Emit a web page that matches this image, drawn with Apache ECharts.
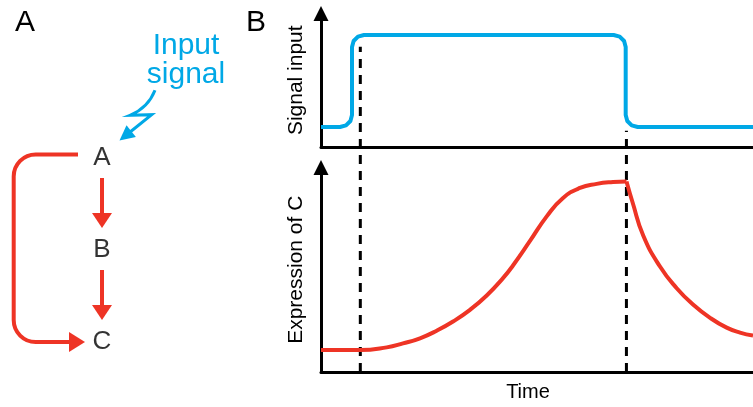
<!DOCTYPE html>
<html>
<head>
<meta charset="utf-8">
<script src="https://cdn.jsdelivr.net/npm/echarts@6/dist/echarts.min.js"></script>
<style>html,body{margin:0;padding:0;background:#fff}#c{width:753px;height:407px}</style>
</head>
<body>
<div id="c"></div>
<script>
// ---------------- data ----------------
const nodes = ['A', 'B', 'C'];
const links = [['A', 'B'], ['B', 'C'], ['A', 'C']];
const inputTarget = 'A';
const inputLabel = ['Input', 'signal'];
const panelLabels = ['A', 'B'];
const axisNames = ['Signal input', 'Expression of C', 'Time'];

const signalTime  = [0, 4.40, 5.79, 6.81, 7.18, 7.18, 7.55, 8.56, 9.95, 67.75, 69.14, 70.16, 70.53, 70.53, 70.90, 71.92, 73.31, 100];
const signalLevel = [15.0, 15.0, 16.2, 19.5, 24.0, 74.9, 79.4, 82.7, 83.9, 83.9, 82.7, 79.4, 74.9, 24.0, 19.5, 16.2, 15.0, 15.0];

const exprRiseTime  = [0, 9.03, 15.21, 18.98, 22.92, 26.78, 30.56, 34.49, 38.36, 42.13, 44.44, 48.38, 52.25, 55.97, 59.95, 63.82, 67.59, 70.72];
const exprRiseLevel = [10.75, 10.75, 12.05, 13.98, 16.5, 20.2, 24.7, 30.4, 37.4, 45.9, 52.1, 64.1, 76.1, 85.0, 90.0, 92.0, 92.9, 93.16];
const exprFallTime  = [70.72, 72.15, 74.61, 78.47, 82.34, 86.11, 90.05, 93.91, 96.99, 100];
const exprFallLevel = [93.16, 82.75, 66.65, 51.57, 40.96, 33.01, 26.51, 21.69, 19.28, 17.83];

const switchTimes = [9.1, 70.7];
const guideReach  = [159, 118];   // upper end of each guide, on the expression scale

// ---------------- style / layout ----------------
const FONT = '"Liberation Sans", Arial, Helvetica, sans-serif';
const BLUE = '#00A8E6', RED = '#EE3425', BLACK = '#000000';
const DIAG = { x: 102, y0: 158, dy: 92 };

const zip = (a, b) => a.map((v, i) => [v, b[i]]);

function plainAxis(extra) {
  return Object.assign({
    type: 'value', min: 0, max: 100,
    axisLine: { show: true, onZero: false, lineStyle: { color: BLACK, width: 3 } },
    axisTick: { show: false }, axisLabel: { show: false }, splitLine: { show: false }
  }, extra);
}
function arrowAxis(extra) {
  const a = plainAxis(extra);
  a.axisLine = { show: true, onZero: false, symbol: ['none', 'triangle'], symbolSize: [15, 15],
                 lineStyle: { color: BLACK, width: 3 } };
  return a;
}

function renderLink(params, api) {
  const from = api.value(0), to = api.value(1);
  const X = DIAG.x, yF = DIAG.y0 + from * DIAG.dy, yT = DIAG.y0 + to * DIAG.dy;
  const c = (x, y) => api.coord([x, y]);
  const st = { stroke: RED, lineWidth: 4, fill: null, lineJoin: 'round' };
  if (to - from === 1) {
    const s = c(X, yF + 20), b = c(X, yT - 37), t = c(X, yT - 22);
    return { type: 'group', children: [
      { type: 'line', shape: { x1: s[0], y1: s[1], x2: b[0], y2: b[1] + 1 }, style: st },
      { type: 'polygon', shape: { points: [t, [b[0] - 10, b[1]], [b[0] + 10, b[1]]] }, style: { fill: RED } }
    ] };
  }
  const r = 22, k = 0.5523;
  const s = c(X - 24, yF - 3.5), L = c(X - 88.3, yF - 3.5), e = c(X - 33, yT), tip = c(X - 17, yT);
  const lx = L[0], ty = s[1], by = e[1];
  const d = 'M' + s[0] + ' ' + ty + ' L' + (lx + r) + ' ' + ty +
    ' C' + (lx + r - r * k) + ' ' + ty + ' ' + lx + ' ' + (ty + r - r * k) + ' ' + lx + ' ' + (ty + r) +
    ' L' + lx + ' ' + (by - r) +
    ' C' + lx + ' ' + (by - r + r * k) + ' ' + (lx + r - r * k) + ' ' + by + ' ' + (lx + r) + ' ' + by +
    ' L' + (e[0] + 1) + ' ' + by;
  return { type: 'group', children: [
    { type: 'path', shape: { pathData: d }, style: st },
    { type: 'polygon', shape: { points: [tip, [e[0], by - 10], [e[0], by + 10]] }, style: { fill: RED } }
  ] };
}

function renderInput(params, api) {
  const idx = api.value(0);
  const X = DIAG.x, Y = DIAG.y0 + idx * DIAG.dy;
  const p = (dx, dy) => api.coord([X + dx, Y + dy]);
  const a = p(53, -67.7), q = p(46, -50), z1 = p(28, -42.7), z2 = p(49.7, -43.3), tip = p(17.5, -17.5);
  const ux = tip[0] - z2[0], uy = tip[1] - z2[1], len = Math.hypot(ux, uy);
  const u = [ux / len, uy / len], n = [-u[1], u[0]];
  const HL = 15, HW = 7.5;
  const bc = [tip[0] - HL * u[0], tip[1] - HL * u[1]];
  const d = 'M' + a[0] + ' ' + a[1] + ' Q' + q[0] + ' ' + q[1] + ' ' + z1[0] + ' ' + z1[1] +
            ' L' + z2[0] + ' ' + z2[1] + ' L' + (bc[0] + u[0]) + ' ' + (bc[1] + u[1]);
  return { type: 'group', children: [
    { type: 'path', shape: { pathData: d }, style: { stroke: BLUE, lineWidth: 3, fill: null, lineJoin: 'miter' } },
    { type: 'polygon', shape: { points: [tip, [bc[0] + HW * n[0], bc[1] + HW * n[1]], [bc[0] - HW * n[0], bc[1] - HW * n[1]]] },
      style: { fill: BLUE } }
  ] };
}

const idx = (n) => nodes.indexOf(n);

const option = {
  animation: false,
  backgroundColor: '#ffffff',
  textStyle: { fontFamily: FONT },
  grid: [
    { left: 321, right: 0, top: 13.5, height: 133.5 },
    { left: 321, right: 0, top: 167.5, height: 207.5 },
    { left: 0, top: 0, width: 260, height: 407 }
  ],
  xAxis: [
    plainAxis({ gridIndex: 0 }),
    plainAxis({ gridIndex: 1, name: axisNames[2], nameLocation: 'middle', nameGap: 10,
                nameTextStyle: { fontSize: 20, color: BLACK, fontFamily: FONT, padding: [0, 18, 0, 0] } }),
    { gridIndex: 2, type: 'value', min: 0, max: 260, show: false }
  ],
  yAxis: [
    arrowAxis({ gridIndex: 0, name: axisNames[0], nameLocation: 'middle', nameGap: 14,
                nameTextStyle: { fontSize: 21, color: BLACK, fontFamily: FONT } }),
    arrowAxis({ gridIndex: 1, name: axisNames[1], nameLocation: 'middle', nameGap: 14,
                nameTextStyle: { fontSize: 21, color: BLACK, fontFamily: FONT } }),
    { gridIndex: 2, type: 'value', min: 0, max: 407, inverse: true, show: false }
  ],
  graphic: [
    { type: 'text', x: 15, y: 8, style: { text: panelLabels[0], fontSize: 30, fontFamily: FONT, fill: BLACK, verticalAlign: 'top' } },
    { type: 'text', x: 246, y: 8, style: { text: panelLabels[1], fontSize: 30, fontFamily: FONT, fill: BLACK, verticalAlign: 'top' } },
    { type: 'text', x: 186, y: 31, style: { text: inputLabel.join('\n'), fontSize: 30, lineHeight: 29, fontFamily: FONT,
      fill: BLUE, align: 'center', verticalAlign: 'top' } }
  ],
  series: [
    ...switchTimes.map((t, k) => ({
      type: 'line', xAxisIndex: 1, yAxisIndex: 1, data: [[t, 0], [t, guideReach[k]]],
      showSymbol: false, clip: false, silent: true, z: 1,
      lineStyle: { color: BLACK, width: 3, type: [9, 7] }
    })),
    { type: 'line', xAxisIndex: 0, yAxisIndex: 0, data: zip(signalTime, signalLevel), showSymbol: false, z: 3,
      lineStyle: { color: BLUE, width: 4, join: 'round' } },
    { type: 'line', xAxisIndex: 1, yAxisIndex: 1, data: zip(exprRiseTime, exprRiseLevel), showSymbol: false, smooth: 0.5, z: 3,
      lineStyle: { color: RED, width: 4, join: 'round' } },
    { type: 'line', xAxisIndex: 1, yAxisIndex: 1, data: zip(exprFallTime, exprFallLevel), showSymbol: false, smooth: 0.5, z: 3,
      lineStyle: { color: RED, width: 4, join: 'round' } },
    { type: 'scatter', xAxisIndex: 2, yAxisIndex: 2, silent: true, symbolSize: 1,
      itemStyle: { color: 'rgba(0,0,0,0)' },
      data: nodes.map((n, i) => ({ name: n, value: [DIAG.x, DIAG.y0 + i * DIAG.dy] })),
      label: { show: true, position: 'inside', formatter: '{b}', fontSize: 26, color: BLACK, fontFamily: FONT, textBorderWidth: 0 } },
    { type: 'custom', xAxisIndex: 2, yAxisIndex: 2, silent: true, renderItem: renderLink,
      encode: { x: 0, y: 1 }, data: links.map(l => [idx(l[0]), idx(l[1])]) },
    { type: 'custom', xAxisIndex: 2, yAxisIndex: 2, silent: true, renderItem: renderInput,
      encode: { x: 0, y: 1 }, data: [[idx(inputTarget), idx(inputTarget)]] }
  ]
};

const chart = echarts.init(document.getElementById('c'), null, { renderer: 'canvas' });
chart.setOption(option);
</script>
</body>
</html>
